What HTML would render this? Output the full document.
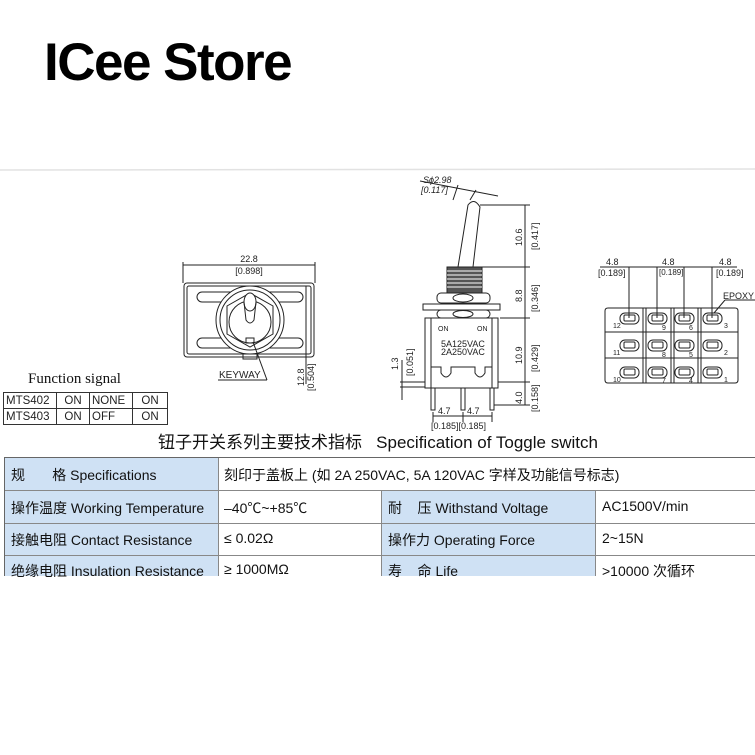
<!DOCTYPE html>
<html><head><meta charset="utf-8"><style>
html,body{margin:0;padding:0;background:#fff;width:755px;height:755px;overflow:hidden;position:relative;font-family:"Liberation Sans","Noto Sans CJK SC",sans-serif}
.t{position:absolute;white-space:nowrap;color:#111}
svg{position:absolute;left:0;top:0}
svg text{font-family:"Liberation Sans",sans-serif;fill:#222}
</style></head><body>
<div class="t" style="left:44px;top:32px;font-size:53px;font-weight:bold;letter-spacing:-1.5px;color:#000">ICee Store</div>
<svg width="755" height="755" viewBox="0 0 755 755">
<line x1="0" y1="170" x2="755" y2="169" stroke="#e2e2e2" stroke-width="1.5"/>
<g stroke="#222" fill="none" stroke-width="1">
<line x1="183" y1="265" x2="315" y2="265"/>
<line x1="183" y1="262" x2="183" y2="283"/><line x1="315" y1="262" x2="315" y2="283"/>
<rect x="184" y="283" width="130" height="74" rx="3"/>
<rect x="187" y="286" width="124" height="68" rx="2"/>
<rect x="197" y="292" width="106" height="10" rx="5"/>
<rect x="197" y="338" width="106" height="10" rx="5"/>
<circle cx="250" cy="320" r="34" fill="#fff"/>
<circle cx="250" cy="320" r="30"/>
<polygon points="250,293 273,306 273,334 250,347 227,334 227,306"/>
<circle cx="250" cy="322" r="21"/>
<ellipse cx="250" cy="302" rx="6" ry="9" fill="#fff"/>
<path d="M244 302 L246 320 Q250 326 254 320 L256 302"/>
<rect x="246" y="338" width="8" height="5"/>
<path d="M243 354 v5 h14 v-5"/>
<line x1="218" y1="380" x2="267" y2="380"/><line x1="267" y1="380" x2="253" y2="342"/>
<line x1="306" y1="286" x2="306" y2="384"/>
<path d="M458 267 L468 205 Q474 197 480 207 L473 267"/>
<rect x="447" y="267" width="35" height="26" fill="#555"/>
<g stroke="#fff" stroke-width="1"><line x1="447" y1="271" x2="482" y2="271"/><line x1="447" y1="275" x2="482" y2="275"/><line x1="447" y1="279" x2="482" y2="279"/><line x1="447" y1="283" x2="482" y2="283"/><line x1="447" y1="287" x2="482" y2="287"/></g>
<rect x="437" y="293" width="53" height="10" rx="4"/>
<ellipse cx="463" cy="298" rx="10" ry="4"/>
<rect x="423" y="304" width="77" height="6"/>
<rect x="437" y="310" width="53" height="8" rx="4"/>
<ellipse cx="463" cy="314" rx="10" ry="3.5"/>
<rect x="425" y="318" width="73" height="70"/>
<line x1="431" y1="318" x2="431" y2="388"/><line x1="492" y1="318" x2="492" y2="388"/>
<path d="M431 367 h10 v6 q5 8 10 0 v-6 h24 v6 q5 8 10 0 v-6 h7"/>
<rect x="431" y="388" width="4" height="22"/><rect x="461" y="388" width="4" height="22"/><rect x="490" y="388" width="4" height="22"/>
<line x1="525" y1="205" x2="525" y2="405"/>
<g><line x1="480" y1="205" x2="530" y2="205"/><line x1="482" y1="267" x2="530" y2="267"/><line x1="500" y1="318" x2="530" y2="318"/><line x1="498" y1="382" x2="530" y2="382"/><line x1="494" y1="405" x2="530" y2="405"/></g>
<line x1="433" y1="412" x2="433" y2="422"/><line x1="463" y1="412" x2="463" y2="422"/><line x1="492" y1="412" x2="492" y2="422"/>
<line x1="433" y1="416" x2="492" y2="416"/>
<line x1="400" y1="382" x2="425" y2="382"/><line x1="400" y1="387" x2="425" y2="387"/><line x1="402" y1="360" x2="402" y2="400"/>
<line x1="453" y1="200" x2="458" y2="185"/><line x1="470" y1="200" x2="476" y2="190"/><line x1="420" y1="181" x2="498" y2="196"/>
<line x1="600" y1="267" x2="737" y2="267"/>
<line x1="629" y1="267" x2="629" y2="318"/><line x1="657" y1="267" x2="657" y2="318"/><line x1="684" y1="267" x2="684" y2="318"/><line x1="712" y1="267" x2="712" y2="318"/>
<path d="M608 308 H735 Q738 308 738 311 V380 Q738 383 735 383 H608 Q605 383 605 380 V311 Q605 308 608 308 Z"/>
<line x1="643" y1="308" x2="643" y2="383"/><line x1="646" y1="308" x2="646" y2="383"/>
<line x1="671" y1="308" x2="671" y2="383"/><line x1="674" y1="308" x2="674" y2="383"/>
<line x1="698" y1="308" x2="698" y2="383"/><line x1="701" y1="308" x2="701" y2="383"/>
<line x1="605" y1="332" x2="738" y2="332"/><line x1="605" y1="358" x2="738" y2="358"/>
<g>
<rect x="620" y="313" width="19" height="11" rx="5"/><rect x="624" y="315" width="11" height="6" rx="1"/>
<rect x="648" y="313" width="19" height="11" rx="5"/><rect x="652" y="315" width="11" height="6" rx="1"/>
<rect x="675" y="313" width="19" height="11" rx="5"/><rect x="679" y="315" width="11" height="6" rx="1"/>
<rect x="703" y="313" width="19" height="11" rx="5"/><rect x="707" y="315" width="11" height="6" rx="1"/>
<rect x="620" y="340" width="19" height="11" rx="5"/><rect x="624" y="342" width="11" height="6" rx="1"/>
<rect x="648" y="340" width="19" height="11" rx="5"/><rect x="652" y="342" width="11" height="6" rx="1"/>
<rect x="675" y="340" width="19" height="11" rx="5"/><rect x="679" y="342" width="11" height="6" rx="1"/>
<rect x="703" y="340" width="19" height="11" rx="5"/><rect x="707" y="342" width="11" height="6" rx="1"/>
<rect x="620" y="367" width="19" height="11" rx="5"/><rect x="624" y="369" width="11" height="6" rx="1"/>
<rect x="648" y="367" width="19" height="11" rx="5"/><rect x="652" y="369" width="11" height="6" rx="1"/>
<rect x="675" y="367" width="19" height="11" rx="5"/><rect x="679" y="369" width="11" height="6" rx="1"/>
<rect x="703" y="367" width="19" height="11" rx="5"/><rect x="707" y="369" width="11" height="6" rx="1"/>
</g>
<line x1="714" y1="313" x2="725" y2="300"/><line x1="725" y1="300" x2="755" y2="300"/>
</g>
<g font-size="9">
<text x="249" y="262" text-anchor="middle">22.8</text>
<text x="249" y="274" text-anchor="middle">[0.898]</text>
<text x="219" y="378" font-size="10">KEYWAY</text>
<text transform="translate(304,386) rotate(-90)">12.8</text>
<text transform="translate(314,391) rotate(-90)">[0.504]</text>
<text x="423" y="183" font-style="italic">Sϕ2.98</text>
<text x="421" y="193" font-style="italic">[0.117]</text>
<text transform="translate(522,246) rotate(-90)">10.6</text>
<text transform="translate(538,250) rotate(-90)">[0.417]</text>
<text transform="translate(522,302) rotate(-90)">8.8</text>
<text transform="translate(538,312) rotate(-90)">[0.346]</text>
<text transform="translate(522,364) rotate(-90)">10.9</text>
<text transform="translate(538,372) rotate(-90)">[0.429]</text>
<text transform="translate(522,404) rotate(-90)">4.0</text>
<text transform="translate(538,412) rotate(-90)">[0.158]</text>
<text transform="translate(398,370) rotate(-90)">1.3</text>
<text transform="translate(413,376) rotate(-90)">[0.051]</text>
<text x="438" y="414">4.7</text><text x="467" y="414">4.7</text>
<text x="431" y="429">[0.185][0.185]</text>
<text x="438" y="331" font-size="7">ON</text><text x="477" y="331" font-size="7">ON</text>
<text x="441" y="347">5A125VAC</text><text x="441" y="355">2A250VAC</text>
<text x="606" y="265">4.8</text><text x="598" y="276">[0.189]</text>
<text x="662" y="265">4.8</text><text x="659" y="275" font-size="8">[0.189]</text>
<text x="719" y="265">4.8</text><text x="716" y="276">[0.189]</text>
<text x="723" y="299">EPOXY</text>
<g font-size="7">
<text x="613" y="328">12</text><text x="662" y="330">9</text><text x="689" y="330">6</text><text x="724" y="328">3</text>
<text x="613" y="355">11</text><text x="662" y="357">8</text><text x="689" y="357">5</text><text x="724" y="355">2</text>
<text x="613" y="382">10</text><text x="662" y="383">7</text><text x="689" y="383">4</text><text x="724" y="382">1</text>
</g>
</g>
</svg>
<div class="t" style="left:28px;top:371px;font-family:'Liberation Serif',serif;font-size:15px">Function signal</div>
<table style="position:absolute;left:3px;top:392px;border-collapse:collapse;font-size:11.5px;color:#222">
<tr style="height:16px"><td style="border:1px solid #333;width:48px;padding:0 2px">MTS402</td><td style="border:1px solid #333;width:30px;text-align:center">ON</td><td style="border:1px solid #333;width:38px;padding:0 2px">NONE</td><td style="border:1px solid #333;width:32px;text-align:center">ON</td></tr>
<tr style="height:16px"><td style="border:1px solid #333;padding:0 2px">MTS403</td><td style="border:1px solid #333;text-align:center">ON</td><td style="border:1px solid #333;padding:0 2px">OFF</td><td style="border:1px solid #333;text-align:center">ON</td></tr>
</table>
<div class="t" style="left:158px;top:428px;font-size:17px">钮子开关系列主要技术指标&nbsp;&nbsp; Specification of Toggle switch</div>
<div style="position:absolute;left:4px;top:457px;width:751px;height:118px;border-top:1.5px solid #666;border-left:1.5px solid #666;font-size:14px;color:#222">
<div style="position:absolute;left:0;top:0;width:213px;height:118px;background:#cfe1f4"></div>
<div style="position:absolute;left:376px;top:32px;width:214px;height:86px;background:#cfe1f4"></div>
<div style="position:absolute;left:213px;top:0;width:1px;height:118px;background:#888"></div>
<div style="position:absolute;left:376px;top:32px;width:1px;height:86px;background:#888"></div>
<div style="position:absolute;left:590px;top:32px;width:1px;height:86px;background:#888"></div>
<div style="position:absolute;left:0;top:32px;width:751px;height:1px;background:#888"></div>
<div style="position:absolute;left:0;top:65px;width:751px;height:1px;background:#888"></div>
<div style="position:absolute;left:0;top:97px;width:751px;height:1px;background:#888"></div>
<div class="t" style="left:6px;top:7px">规 &nbsp; &nbsp; &nbsp; 格 Specifications</div>
<div class="t" style="left:219px;top:7px">刻印于盖板上 (如 2A 250VAC, 5A 120VAC 字样及功能信号标志)</div>
<div class="t" style="left:6px;top:40px">操作温度 Working Temperature</div>
<div class="t" style="left:219px;top:40px">–40℃~+85℃</div>
<div class="t" style="left:383px;top:40px">耐 &nbsp; &nbsp;压 Withstand Voltage</div>
<div class="t" style="left:597px;top:40px">AC1500V/min</div>
<div class="t" style="left:6px;top:72px">接触电阻 Contact Resistance</div>
<div class="t" style="left:219px;top:72px">≤ 0.02Ω</div>
<div class="t" style="left:383px;top:72px">操作力 Operating Force</div>
<div class="t" style="left:597px;top:72px">2~15N</div>
<div class="t" style="left:6px;top:103px">绝缘电阻 Insulation Resistance</div>
<div class="t" style="left:219px;top:103px">≥ 1000MΩ</div>
<div class="t" style="left:383px;top:103px">寿 &nbsp; &nbsp;命 Life</div>
<div class="t" style="left:597px;top:103px">&gt;10000 次循环</div>
</div>
</body></html>
